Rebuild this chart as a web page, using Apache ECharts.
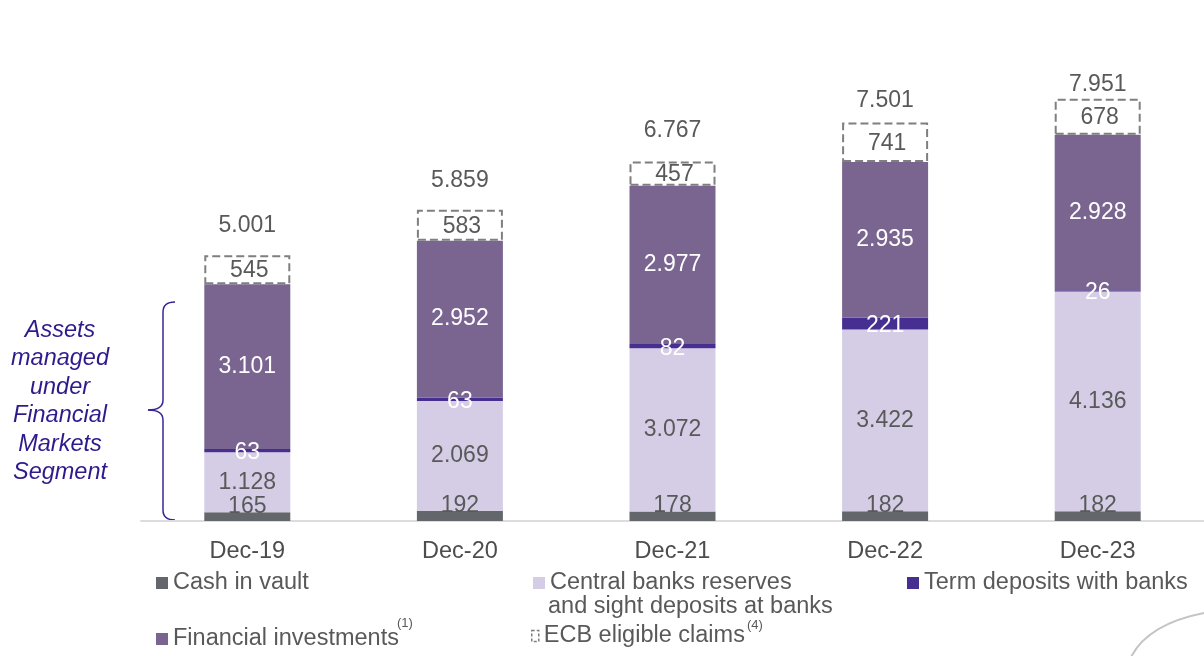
<!DOCTYPE html>
<html>
<head>
<meta charset="utf-8">
<style>
  html, body { margin: 0; padding: 0; background: #fff; }
  #main { width: 1204px; height: 656px; }
</style>
<script src="https://cdn.jsdelivr.net/npm/echarts@6/dist/echarts.min.js"></script>
</head>
<body>
<div id="main"></div>
<script>
// dati
var categories = ['Dec-19', 'Dec-20', 'Dec-21', 'Dec-22', 'Dec-23'];
var cashInVault = [165, 192, 178, 182, 182];
var centralBanks = [1128, 2069, 3072, 3422, 4136];
var termDeposits = [63, 63, 82, 221, 26];
var finInvestments = [3101, 2952, 2977, 2935, 2928];
var ecbClaims = [545, 583, 457, 741, 678];
var totals = [5001, 5859, 6767, 7501, 7951];

var FONT = "'Liberation Sans', Arial, sans-serif";
var GRAY_TXT = '#595959';
var BRACE = '#3a2396';
// distanza etichetta totale dalla colonna (come nell'originale)
var totalGap = [18, 18, 19, 10, 3];

// formato europeo: 1.128
function fmt(v) {
    if (v >= 1000) {
        return Math.floor(v / 1000) + '.' + String(v % 1000).padStart(3, '0');
    }
    return String(v);
}

function curve(x1, y1, cx, cy, x2, y2, color) {
    return {
        type: 'bezierCurve',
        shape: { x1: x1, y1: y1, cpx1: cx, cpy1: cy, x2: x2, y2: y2 },
        style: { stroke: color, lineWidth: 1.5, fill: null }
    };
}
function seg(x1, y1, x2, y2, color) {
    return {
        type: 'line',
        shape: { x1: x1, y1: y1, x2: x2, y2: y2 },
        style: { stroke: color, lineWidth: 1.5 }
    };
}

var chart = echarts.init(document.getElementById('main'));

var legendBase = {
    icon: 'rect',
    itemWidth: 12,
    itemHeight: 12,
    padding: 0,
    selectedMode: false,
    textStyle: { fontSize: 23.5, color: GRAY_TXT, fontFamily: FONT, lineHeight: 24 }
};

var labelBase = { show: true, fontSize: 23, fontFamily: FONT };

var option = {
    animation: false,
    grid: { left: 141, width: 1070, top: 96, bottom: 135 },
    xAxis: {
        type: 'category',
        data: categories,
        axisLine: { lineStyle: { color: '#dcdcdc', width: 2 } },
        axisTick: { show: false },
        axisLabel: { color: '#4d4d4d', fontSize: 23.5, fontFamily: FONT, margin: 19 }
    },
    yAxis: {
        type: 'value',
        min: 0,
        max: 8000,
        show: false,
        splitLine: { show: false }
    },
    legend: [
        Object.assign({}, legendBase, { left: 156, top: 571, data: ['Cash in vault'] }),
        Object.assign({}, legendBase, {
            left: 533, top: 571,
            data: ['Central banks reserves and sight deposits at banks'],
            formatter: function () { return 'Central banks reserves'; }
        }),
        Object.assign({}, legendBase, { left: 907, top: 571, data: ['Term deposits with banks'] }),
        Object.assign({}, legendBase, { left: 156, top: 627, data: ['Financial investments'] }),
        Object.assign({}, legendBase, {
            left: 531, top: 624,
            itemWidth: 7, itemHeight: 11,
            data: [{
                name: 'ECB eligible claims',
                itemStyle: { color: '#fff', borderColor: '#7f7f7f', borderWidth: 1.5, borderType: [3, 2] }
            }]
        })
    ],
    graphic: [
        // seconda riga legenda
        {
            type: 'text', left: 548, top: 595,
            style: { text: 'and sight deposits at banks', font: '23.5px ' + FONT, fill: GRAY_TXT }
        },
        // apici
        { type: 'text', left: 397, top: 617, style: { text: '(1)', font: '13px ' + FONT, fill: GRAY_TXT } },
        { type: 'text', left: 747, top: 619, style: { text: '(4)', font: '13px ' + FONT, fill: GRAY_TXT } },
        // testo a sinistra
        {
            type: 'text', x: 60, y: 316,
            style: {
                text: 'Assets\nmanaged\nunder\nFinancial\nMarkets\nSegment',
                font: 'italic 23.5px ' + FONT,
                fill: '#2f1a8c',
                align: 'center',
                verticalAlign: 'top',
                lineHeight: 28.5
            }
        },
        // parentesi graffa
        curve(175, 302, 163, 302, 163, 312, BRACE),
        seg(163, 312, 163, 400, BRACE),
        curve(163, 400, 163, 410, 148, 410, BRACE),
        curve(148, 410, 163, 410, 163, 420, BRACE),
        seg(163, 420, 163, 510, BRACE),
        curve(163, 510, 163, 520, 175, 520, BRACE),
        // arco decorativo
        {
            type: 'bezierCurve',
            shape: { x1: 1131, y1: 657, cpx1: 1148, cpy1: 624, x2: 1204, y2: 613 },
            style: { stroke: '#c4c4c4', lineWidth: 2, fill: null }
        }
    ],
    series: [
        {
            name: 'Cash in vault',
            type: 'bar', stack: 'tot', barWidth: 86,
            data: cashInVault,
            itemStyle: { color: '#63666a' },
            label: Object.assign({}, labelBase, {
                position: 'top', distance: -6, color: GRAY_TXT,
                formatter: function (p) { return fmt(p.value); }
            })
        },
        {
            name: 'Central banks reserves and sight deposits at banks',
            type: 'bar', stack: 'tot', barWidth: 86,
            data: centralBanks,
            itemStyle: { color: '#d5cde6' },
            label: Object.assign({}, labelBase, {
                position: 'inside', color: GRAY_TXT,
                formatter: function (p) { return fmt(p.value); }
            })
        },
        {
            name: 'Term deposits with banks',
            type: 'bar', stack: 'tot', barWidth: 86,
            data: termDeposits,
            itemStyle: { color: '#472e91' },
            label: Object.assign({}, labelBase, {
                position: 'inside', offset: [0, 2], color: '#fff',
                formatter: function (p) { return fmt(p.value); }
            })
        },
        {
            name: 'Financial investments',
            type: 'bar', stack: 'tot', barWidth: 86,
            data: finInvestments,
            itemStyle: { color: '#7a6591' },
            label: Object.assign({}, labelBase, {
                position: 'inside', color: '#fff',
                formatter: function (p) { return fmt(p.value); }
            })
        },
        {
            name: 'ECB eligible claims',
            type: 'bar', stack: 'tot', barWidth: 86,
            data: ecbClaims,
            itemStyle: { color: '#fff', borderColor: '#7f7f7f', borderWidth: 2, borderType: [8, 4] },
            label: Object.assign({}, labelBase, {
                position: 'inside', offset: [2, 1], color: GRAY_TXT,
                formatter: function (p) { return fmt(p.value); }
            })
        },
        {
            // totali sopra le colonne
            name: 'Total',
            type: 'bar', stack: 'tot', barWidth: 86,
            data: categories.map(function (c, i) {
                return { value: 0, label: { distance: totalGap[i] } };
            }),
            itemStyle: { color: 'transparent' },
            silent: true,
            label: Object.assign({}, labelBase, {
                position: 'top', distance: 18, color: GRAY_TXT,
                formatter: function (p) { return fmt(totals[p.dataIndex]); }
            })
        }
    ]
};

chart.setOption(option);
</script>
</body>
</html>
